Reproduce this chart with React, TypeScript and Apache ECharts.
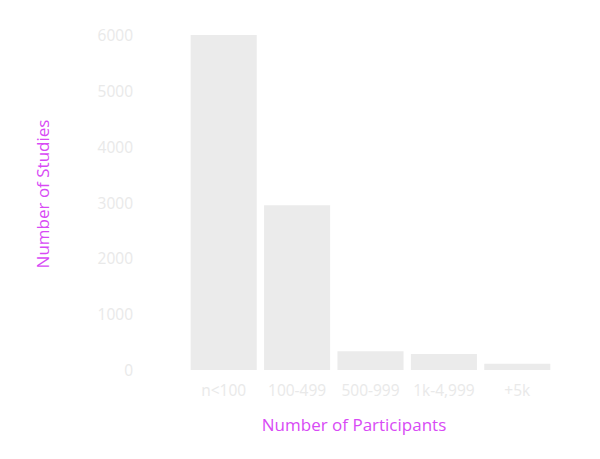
import React, { useEffect, useRef } from "react";
import * as echarts from "echarts";

const categories = ["n<100", "100-499", "500-999", "1k-4,999", "+5k"];
const studies = [6000, 2950, 335, 285, 110];
const yTicks = [0, 1000, 2000, 3000, 4000, 5000, 6000];
const xTitle = "Number of Participants";
const yTitle = "Number of Studies";

export default function App() {
  const ref = useRef<HTMLDivElement>(null);
  useEffect(() => {
    const chart = echarts.init(ref.current!, undefined, { renderer: "svg" });
    const font = "'Open Sans', sans-serif";
    chart.setOption({
      animation: false,
      grid: { left: 179, right: 38, top: 27, bottom: 81 },
      xAxis: {
        type: "category",
        data: categories,
        axisLine: { show: false },
        axisTick: { show: false },
        axisLabel: { color: "#e9e9e9", fontSize: 15.5, fontFamily: font, margin: 12, interval: 0 },
      },
      yAxis: {
        type: "value",
        min: yTicks[0],
        max: yTicks[yTicks.length - 1],
        interval: 1000,
        splitLine: { show: false },
        axisLine: { show: false },
        axisTick: { show: false },
        axisLabel: {
          color: "#e9e9e9",
          fontSize: 15.5,
          fontFamily: font,
          margin: 54,
          formatter: (v: number) => String(v),
        },
      },
      series: [
        {
          type: "bar",
          data: studies,
          barCategoryGap: "10%",
          itemStyle: { color: "#ebebeb" },
        },
      ],
      graphic: [
        {
          type: "text",
          x: 346,
          y: 416,
          style: {
            text: xTitle,
            fill: "#d84af5",
            font: `17px ${font}`,
            textAlign: "center",
            textVerticalAlign: "middle",
          },
        },
        {
          type: "text",
          x: 34,
          y: 186,
          rotation: Math.PI / 2,
          style: {
            text: yTitle,
            fill: "#d84af5",
            font: `17px ${font}`,
            textAlign: "center",
            textVerticalAlign: "middle",
          },
        },
      ],
    });
    return () => chart.dispose();
  }, []);
  return <div ref={ref} style={{ width: 584, height: 443 }} />;
}
